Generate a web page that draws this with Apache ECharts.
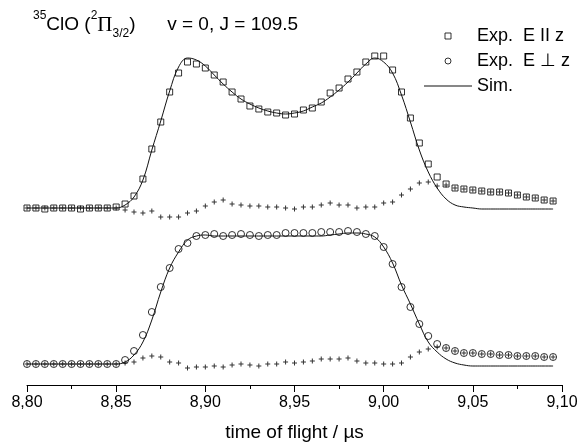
<!DOCTYPE html>
<html>
<head>
<meta charset="utf-8">
<script src="https://cdn.jsdelivr.net/npm/echarts@6/dist/echarts.min.js"></script>
<style>
  html, body { margin: 0; padding: 0; background: #fff; }
  #chart { width: 584px; height: 447px; }
</style>
</head>
<body>
<div id="chart"></div>
<script>
// time of flight (µs), one point every 5 ns
var tof = [
  8.800, 8.805, 8.810, 8.815, 8.820, 8.825, 8.830, 8.835, 8.840, 8.845,
  8.850, 8.855, 8.860, 8.865, 8.870, 8.875, 8.880, 8.885, 8.890, 8.895,
  8.900, 8.905, 8.910, 8.915, 8.920, 8.925, 8.930, 8.935, 8.940, 8.945,
  8.950, 8.955, 8.960, 8.965, 8.970, 8.975, 8.980, 8.985, 8.990, 8.995,
  9.000, 9.005, 9.010, 9.015, 9.020, 9.025, 9.030, 9.035, 9.040, 9.045,
  9.050, 9.055, 9.060, 9.065, 9.070, 9.075, 9.080, 9.085, 9.090, 9.095
]
// upper profile: E || z (offset upward)
var expPar = [
  1.77, 1.77, 1.76, 1.77, 1.77, 1.77, 1.76, 1.77, 1.77, 1.77,
  1.78, 1.81, 1.89, 2.06, 2.36, 2.63, 2.93, 3.12, 3.23, 3.21,
  3.17, 3.10, 3.03, 2.93, 2.86, 2.79, 2.76, 2.73, 2.72, 2.70,
  2.71, 2.75, 2.77, 2.83, 2.92, 2.97, 3.06, 3.13, 3.23, 3.29,
  3.29, 3.15, 2.93, 2.67, 2.42, 2.21, 2.08, 2.01, 1.97, 1.96,
  1.95, 1.94, 1.93, 1.93, 1.92, 1.90, 1.88, 1.87, 1.85, 1.84
]
var simPar = [
  1.77, 1.77, 1.77, 1.77, 1.77, 1.77, 1.77, 1.77, 1.77, 1.77,
  1.77, 1.80, 1.88, 2.05, 2.35, 2.64, 2.94, 3.18, 3.27, 3.25,
  3.19, 3.10, 3.01, 2.93, 2.86, 2.81, 2.77, 2.74, 2.72, 2.71,
  2.72, 2.74, 2.78, 2.82, 2.88, 2.95, 3.03, 3.12, 3.21, 3.27,
  3.23, 3.12, 2.90, 2.63, 2.35, 2.13, 1.97, 1.86, 1.80, 1.78,
  1.77, 1.76, 1.76, 1.76, 1.76, 1.76, 1.76, 1.76, 1.76, 1.76
]
var diffPar = [
  1.77, 1.77, 1.77, 1.77, 1.77, 1.77, 1.77, 1.77, 1.77, 1.77,
  1.77, 1.75, 1.73, 1.72, 1.74, 1.68, 1.68, 1.68, 1.72, 1.74,
  1.79, 1.83, 1.85, 1.81, 1.80, 1.79, 1.79, 1.78, 1.78, 1.77,
  1.76, 1.78, 1.78, 1.80, 1.82, 1.80, 1.80, 1.77, 1.78, 1.78,
  1.82, 1.83, 1.90, 1.96, 2.02, 2.03, 1.99, 2.00, 1.97, 1.96,
  1.95, 1.94, 1.93, 1.93, 1.92, 1.90, 1.88, 1.87, 1.85, 1.84
]
// lower profile: E perpendicular z
var expPerp = [
  0.21, 0.21, 0.21, 0.21, 0.21, 0.21, 0.21, 0.21, 0.21, 0.21,
  0.21, 0.25, 0.34, 0.50, 0.73, 0.98, 1.17, 1.36, 1.42, 1.49,
  1.50, 1.51, 1.49, 1.50, 1.51, 1.50, 1.49, 1.50, 1.50, 1.52,
  1.52, 1.52, 1.52, 1.53, 1.53, 1.53, 1.54, 1.53, 1.51, 1.49,
  1.38, 1.21, 0.98, 0.78, 0.61, 0.49, 0.41, 0.37, 0.34, 0.32,
  0.32, 0.31, 0.31, 0.30, 0.30, 0.29, 0.29, 0.29, 0.28, 0.28
]
var simPerp = [
  0.21, 0.21, 0.21, 0.21, 0.21, 0.21, 0.21, 0.21, 0.21, 0.21,
  0.21, 0.23, 0.30, 0.43, 0.65, 0.93, 1.17, 1.33, 1.45, 1.49,
  1.50, 1.49, 1.49, 1.49, 1.49, 1.49, 1.49, 1.49, 1.49, 1.49,
  1.49, 1.49, 1.49, 1.49, 1.50, 1.51, 1.52, 1.52, 1.51, 1.48,
  1.38, 1.22, 1.00, 0.81, 0.61, 0.43, 0.33, 0.26, 0.22, 0.20,
  0.19, 0.19, 0.19, 0.19, 0.19, 0.19, 0.19, 0.19, 0.19, 0.19
]
var diffPerp = [
  0.21, 0.21, 0.21, 0.21, 0.21, 0.21, 0.21, 0.21, 0.21, 0.21,
  0.21, 0.22, 0.23, 0.27, 0.29, 0.28, 0.23, 0.22, 0.17, 0.18,
  0.18, 0.19, 0.18, 0.20, 0.21, 0.20, 0.19, 0.21, 0.21, 0.23,
  0.22, 0.23, 0.24, 0.26, 0.26, 0.26, 0.27, 0.24, 0.22, 0.22,
  0.21, 0.21, 0.22, 0.28, 0.33, 0.36, 0.38, 0.37, 0.34, 0.32,
  0.32, 0.31, 0.31, 0.30, 0.30, 0.29, 0.29, 0.29, 0.28, 0.28
]
var xTicks = [8.80, 8.85, 8.90, 8.95, 9.00, 9.05, 9.10]

function pairs(ys) {
  return tof.map(function(t, i) { return [t, ys[i]] })
}

var font = 'Liberation Sans, Arial, sans-serif'
var cross = 'path://M2,0H3V2H5V3H3V5H2V3H0V2H2Z'
var hollow = { color: 'rgba(255,255,255,0)', borderColor: '#000', borderWidth: 1 }

var option = {
  backgroundColor: '#fff',
  animation: false,
  textStyle: { fontFamily: font, color: '#000' },
  title: {
    left: 28,
    top: 5,
    text: '{sup|35}{n|ClO (}{sup|2}{pi|\u03A0}{sub|3/2}{n|)      v = 0, J = 109.5}',
    textStyle: {
      fontWeight: 'normal',
      rich: {
        n: { fontSize: 19, fontWeight: 'normal', fontFamily: font, color: '#000', lineHeight: 30 },
        sup: { fontSize: 12, fontWeight: 'normal', fontFamily: font, color: '#000', lineHeight: 30, verticalAlign: 'top' },
        sub: { fontSize: 12, fontWeight: 'normal', fontFamily: font, color: '#000', lineHeight: 30, verticalAlign: 'bottom' },
        pi: { fontSize: 21, fontWeight: 'normal', fontFamily: 'Liberation Serif, serif', color: '#000', lineHeight: 30 }
      }
    }
  },
  legend: {
    orient: 'vertical',
    left: 419,
    top: 22,
    itemWidth: 48,
    itemHeight: 6,
    itemGap: 7,
    symbolKeepAspect: true,
    textStyle: { fontSize: 18, fontFamily: font, color: '#000', lineHeight: 18 },
    data: [
      { name: 'Exp.  E II z', icon: 'path://M0,0H10V10H0Z', itemStyle: hollow },
      { name: 'Exp.  E \u22A5 z', icon: 'circle', itemStyle: hollow },
      { name: 'Sim.', icon: 'path://M0,0H48V1H0Z', itemStyle: { color: '#111', borderWidth: 0 } }
    ]
  },
  grid: {
    left: 27,
    right: 22,
    top: 35,
    bottom: 62
  },
  xAxis: {
    type: 'value',
    min: 8.80,
    max: 9.10,
    interval: 0.05,
    name: 'time of flight / \u00B5s',
    nameLocation: 'middle',
    nameGap: 38,
    nameTextStyle: { fontSize: 19, fontFamily: font, color: '#000' },
    axisLine: { lineStyle: { color: '#000', width: 1 } },
    axisTick: { length: 7, lineStyle: { color: '#000' } },
    minorTick: { show: true, splitNumber: 2, length: 4, lineStyle: { color: '#000' } },
    splitLine: { show: false },
    axisLabel: {
      fontSize: 16,
      fontFamily: font,
      color: '#000',
      margin: 10,
      formatter: function(v) {
        var hit = xTicks.filter(function(t) { return Math.abs(t - v) < 1e-6 })
        return hit.length ? hit[0].toFixed(2).replace('.', ',') : ''
      }
    }
  },
  yAxis: {
    type: 'value',
    min: 0,
    max: 3.5,
    show: false,
    splitLine: { show: false }
  },
  series: [
    {
      name: 'Diff. E II z',
      type: 'scatter',
      symbol: cross,
      symbolSize: 5,
      itemStyle: { color: '#000' },
      data: pairs(diffPar)
    },
    {
      name: 'Diff. E \u22A5 z',
      type: 'scatter',
      symbol: cross,
      symbolSize: 5,
      itemStyle: { color: '#000' },
      data: pairs(diffPerp)
    },
    {
      name: 'Sim.',
      type: 'line',
      smooth: 0.4,
      symbol: 'none',
      showSymbol: false,
      lineStyle: { color: '#111', width: 1 },
      itemStyle: { color: '#111' },
      data: pairs(simPar)
    },
    {
      name: 'Sim.',
      type: 'line',
      smooth: 0.4,
      symbol: 'none',
      showSymbol: false,
      lineStyle: { color: '#111', width: 1 },
      itemStyle: { color: '#111' },
      data: pairs(simPerp)
    },
    {
      name: 'Exp.  E II z',
      type: 'scatter',
      symbol: 'rect',
      symbolSize: 6,
      itemStyle: hollow,
      data: pairs(expPar)
    },
    {
      name: 'Exp.  E \u22A5 z',
      type: 'scatter',
      symbol: 'circle',
      symbolSize: 7,
      itemStyle: hollow,
      data: pairs(expPerp)
    }
  ]
}

var chart = echarts.init(document.getElementById('chart'))
chart.setOption(option, true)
window.addEventListener('resize', function() {
  chart.resize()
})
</script>
</body>
</html>
